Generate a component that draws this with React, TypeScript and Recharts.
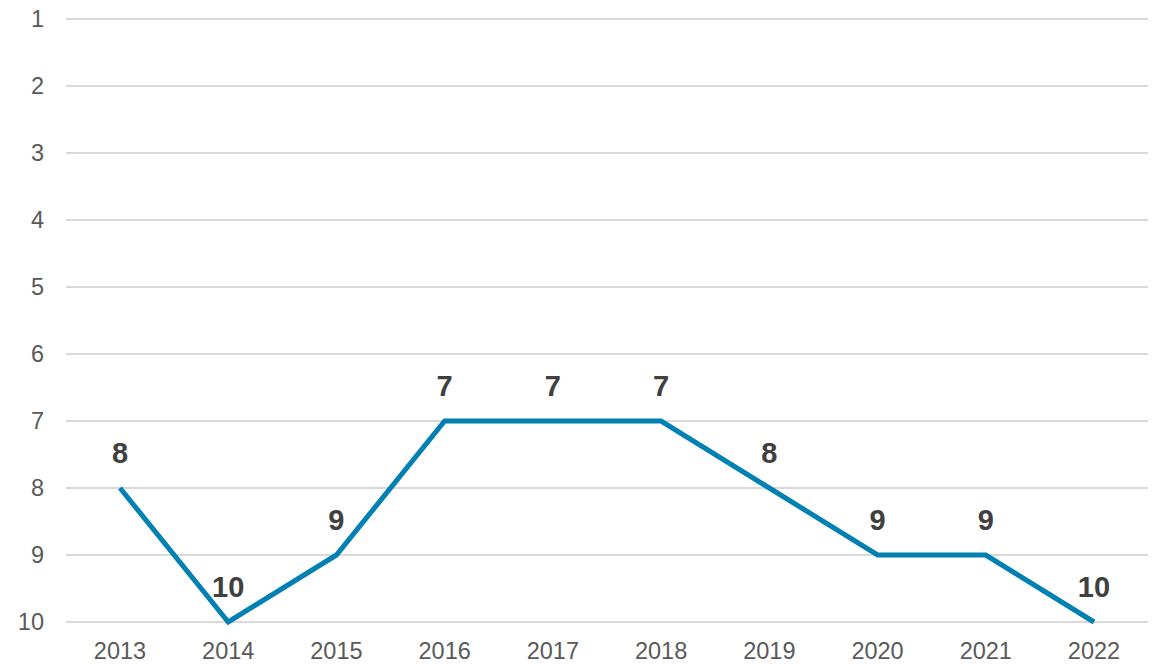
import { CartesianGrid, LabelList, Line, LineChart, XAxis, YAxis } from 'recharts'

const years = ['2013', '2014', '2015', '2016', '2017', '2018', '2019', '2020', '2021', '2022']
const ranks = [8, 10, 9, 7, 7, 7, 8, 9, 9, 10]
const rankTicks = [1, 2, 3, 4, 5, 6, 7, 8, 9, 10]

const data = years.map((year, i) => ({ year, rank: ranks[i] }))

const font = '"Liberation Sans", Arial, sans-serif'

export default function App() {
  return (
    <div style={{ position: 'absolute', left: 0, top: 0, background: '#fff' }}>
      <LineChart
        width={1164}
        height={664}
        data={data}
        margin={{ top: 19, right: 16, bottom: 0, left: 0 }}
        style={{ fontFamily: font }}
      >
        <CartesianGrid vertical={false} stroke="#d9d9d9" strokeWidth={2} />
        <XAxis
          dataKey="year"
          height={42}
          axisLine={false}
          tickLine={false}
          tickSize={0}
          tickMargin={20}
          tick={{ fill: '#595959', fontSize: 23.5, fontFamily: font }}
          padding={{ left: 54, right: 54 }}
        />
        <YAxis
          reversed
          domain={[1, 10]}
          ticks={rankTicks}
          interval={0}
          width={66}
          axisLine={false}
          tickLine={false}
          tickSize={0}
          tickMargin={22}
          tick={{ fill: '#595959', fontSize: 23.5, fontFamily: font }}
        />
        <Line
          type="linear"
          dataKey="rank"
          stroke="#0080b3"
          strokeWidth={5}
          dot={false}
          isAnimationActive={false}
        >
          <LabelList
            dataKey="rank"
            position="top"
            offset={25}
            fill="#404040"
            fontSize={29}
            fontWeight="bold"
            fontFamily={font}
          />
        </Line>
      </LineChart>
    </div>
  )
}
